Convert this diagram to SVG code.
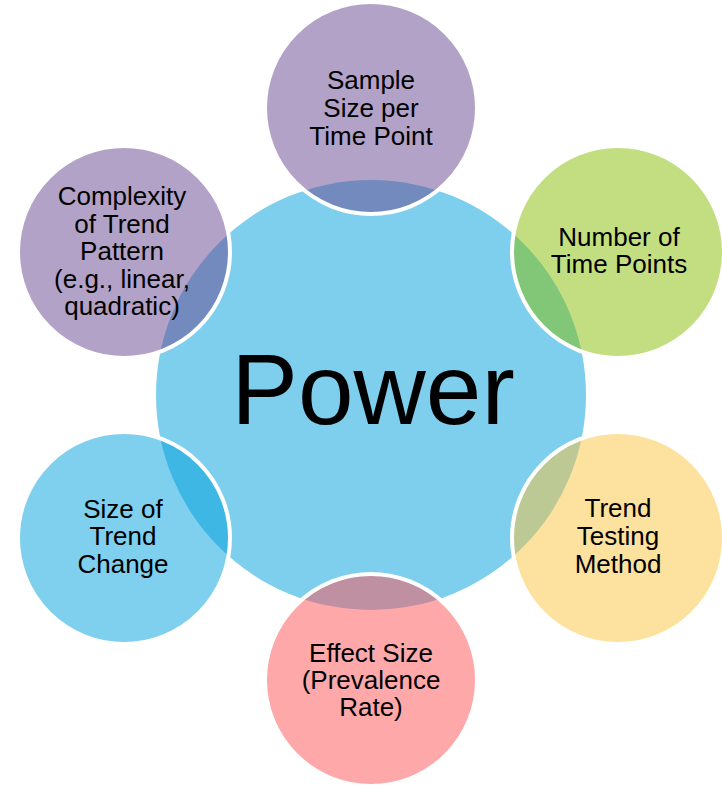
<svg xmlns="http://www.w3.org/2000/svg" width="722" height="785" viewBox="0 0 722 785">
  <style>
    .hub { fill: #7ECFED; }
    .sat { stroke: #FFFFFF; stroke-width: 4; fill-opacity: 0.5; }
    .lbl { font-family: "Liberation Sans", Arial, sans-serif; font-size: 26px; fill: #000000; text-anchor: middle; }
    .big { font-family: "Liberation Sans", Arial, sans-serif; font-size: 100px; fill: #000000; text-anchor: middle; }
  </style>
  <rect width="722" height="785" fill="#FFFFFF"/>

  <!-- central hub -->
  <g id="power">
    <circle class="hub" cx="371" cy="395" r="215"/>
    <text class="big" x="373" y="424">Power</text>
  </g>

  <g id="connectors"></g>

  <!-- surrounding factors: translucent fills over the hub -->
  <g id="sample-size">
    <circle class="sat" cx="371" cy="108" r="106" fill="#67458F"/>
    <text class="lbl" x="371" y="89">Sample</text>
    <text class="lbl" x="371" y="117">Size per</text>
    <text class="lbl" x="371" y="145">Time Point</text>
  </g>

  <g id="time-points">
    <circle class="sat" cx="618" cy="252" r="106" fill="#85BD01"/>
    <text class="lbl" x="619" y="246">Number of</text>
    <text class="lbl" x="619" y="273">Time Points</text>
  </g>

  <g id="testing-method">
    <circle class="sat" cx="618" cy="538" r="106" fill="#FBC33D"/>
    <text class="lbl" x="618" y="517">Trend</text>
    <text class="lbl" x="618" y="545">Testing</text>
    <text class="lbl" x="618" y="573">Method</text>
  </g>

  <g id="effect-size">
    <circle class="sat" cx="371" cy="680" r="106" fill="#FF5155"/>
    <text class="lbl" x="371" y="662">Effect Size</text>
    <text class="lbl" x="371" y="689">(Prevalence</text>
    <text class="lbl" x="371" y="716">Rate)</text>
  </g>

  <g id="trend-change">
    <circle class="sat" cx="124" cy="538" r="106" fill="#009FDD"/>
    <text class="lbl" x="123" y="518">Size of</text>
    <text class="lbl" x="123" y="545">Trend</text>
    <text class="lbl" x="123" y="573">Change</text>
  </g>

  <g id="trend-complexity">
    <circle class="sat" cx="124" cy="252" r="106" fill="#67458F"/>
    <text class="lbl" x="122" y="205">Complexity</text>
    <text class="lbl" x="122" y="233">of Trend</text>
    <text class="lbl" x="122" y="260">Pattern</text>
    <text class="lbl" x="122" y="288">(e.g., linear,</text>
    <text class="lbl" x="122" y="315">quadratic)</text>
  </g>
</svg>
